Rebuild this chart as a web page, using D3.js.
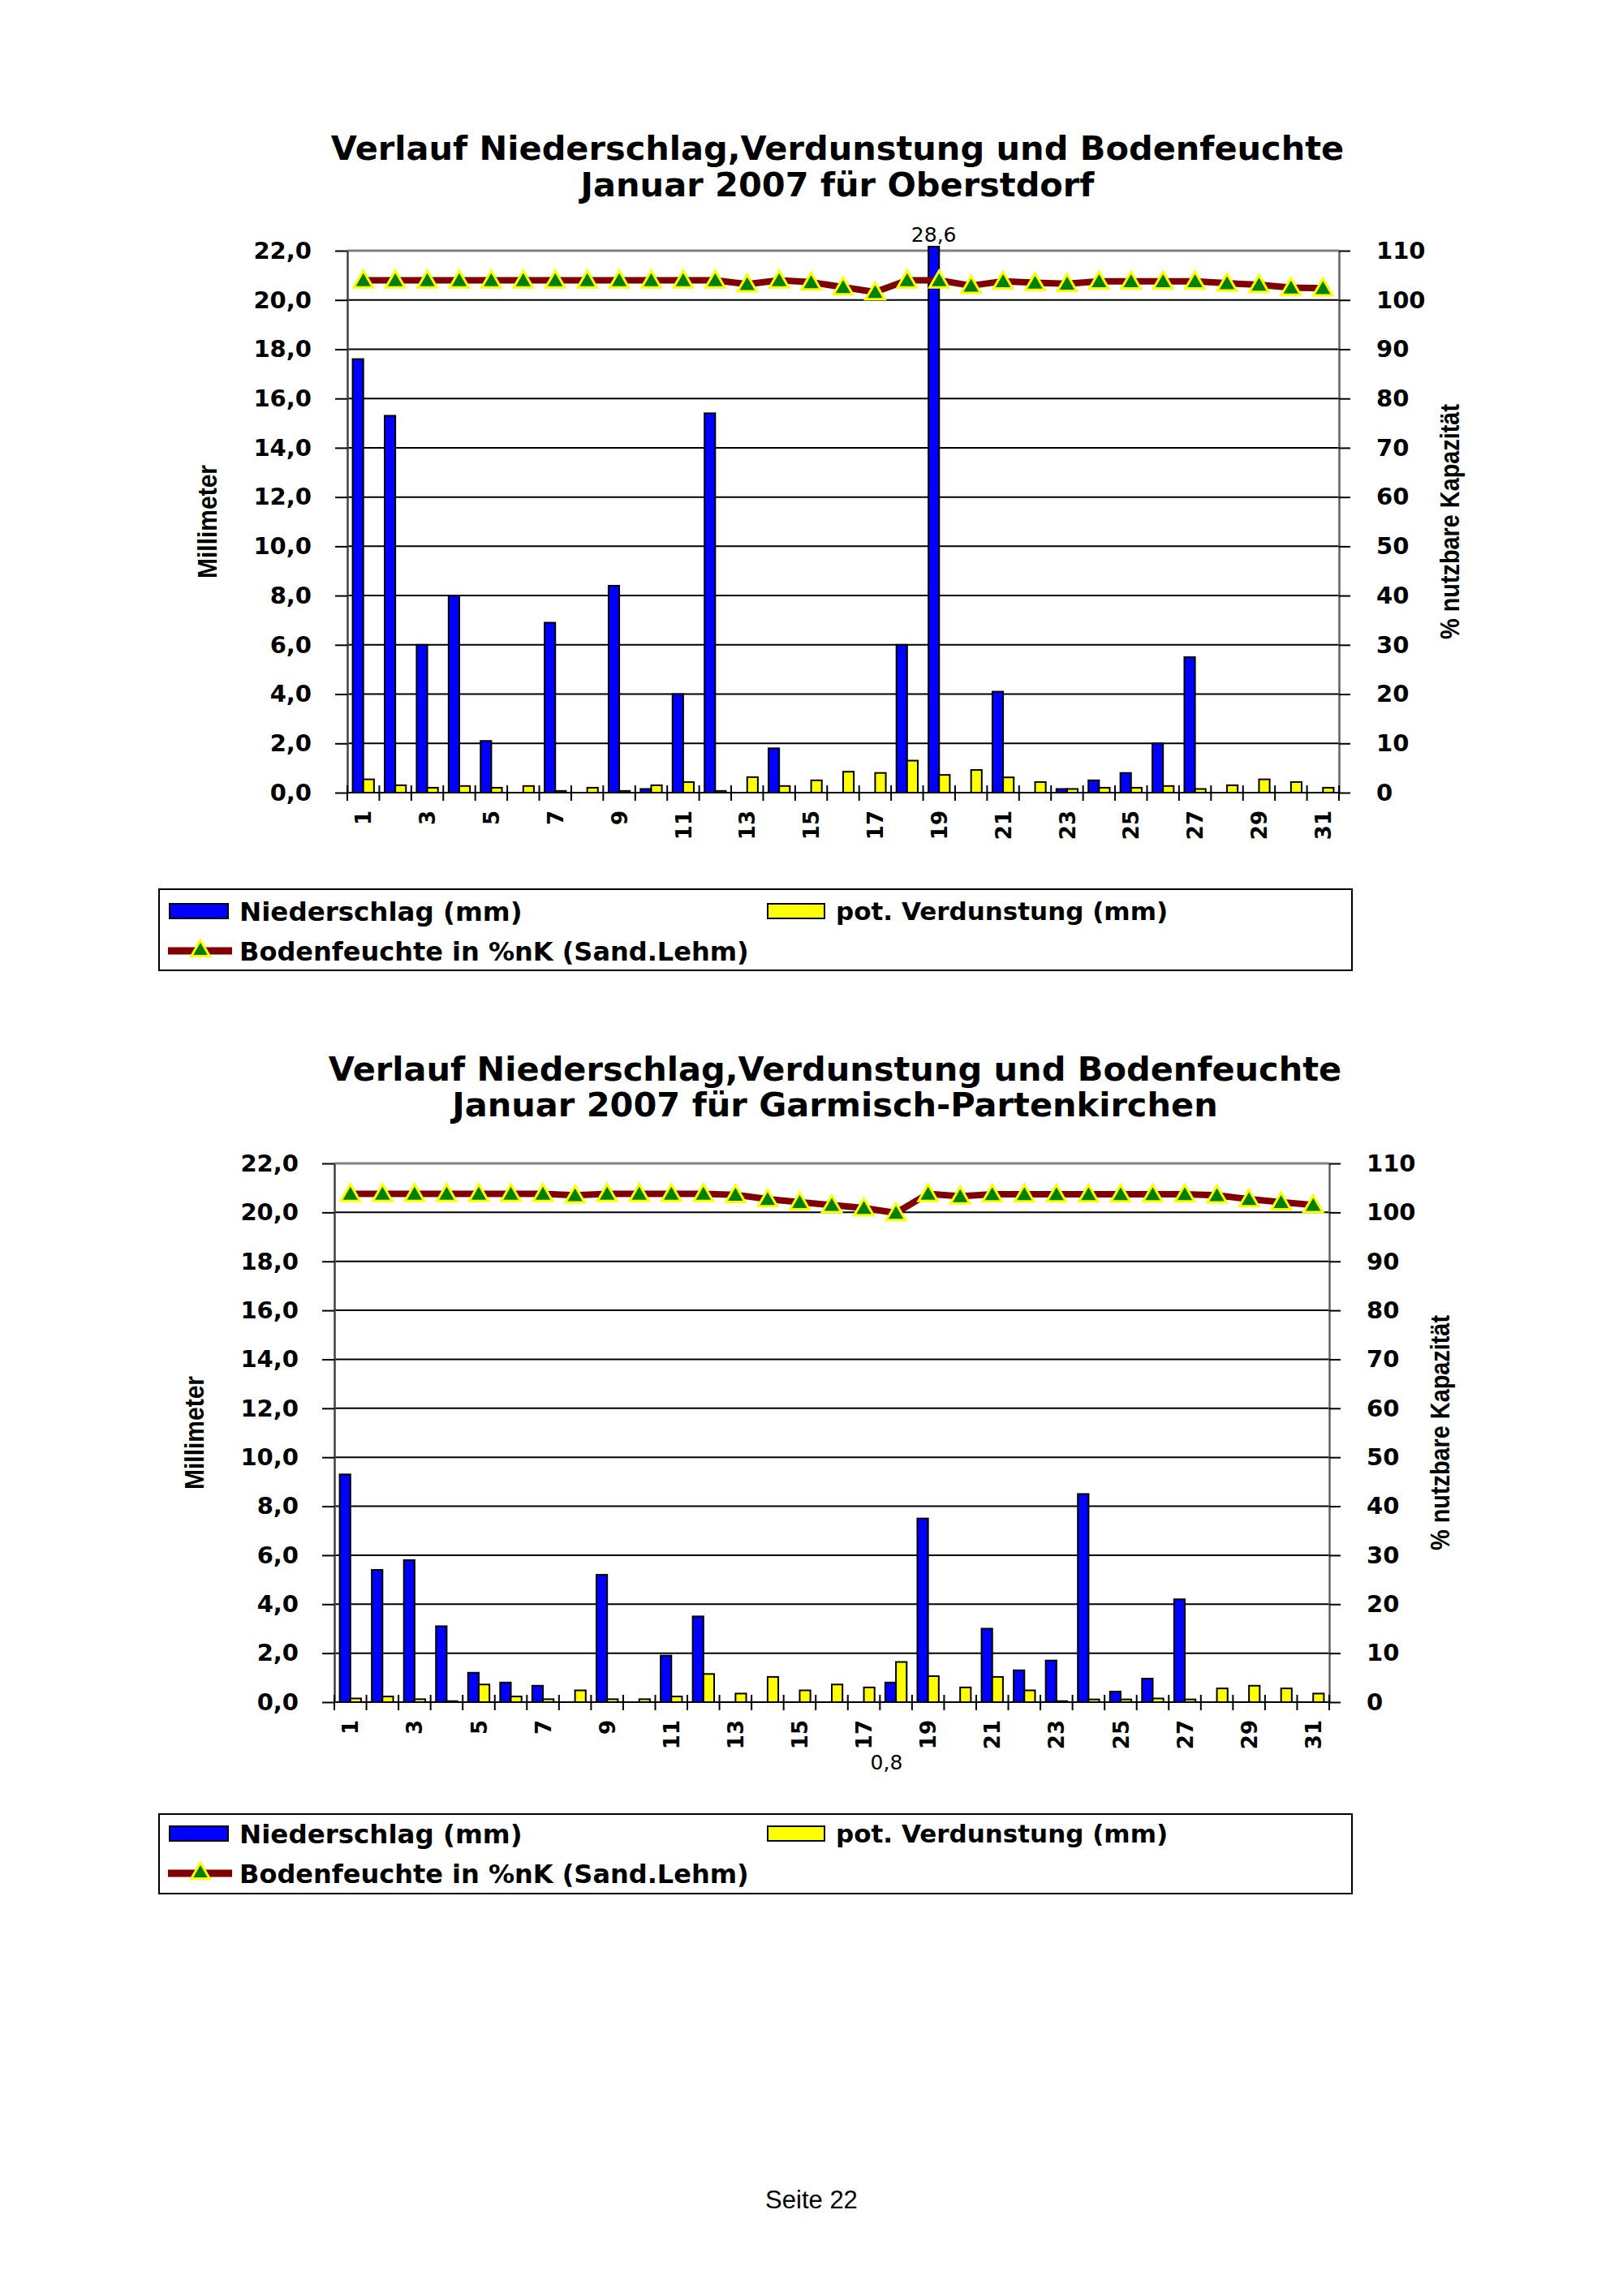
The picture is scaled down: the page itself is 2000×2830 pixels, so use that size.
<!DOCTYPE html>
<html>
<head>
<meta charset="utf-8">
<script src="https://cdn.jsdelivr.net/npm/d3@7"></script>
<style>
  body { margin: 0; background: #fff; }
  svg text { font-family: "DejaVu Sans", Verdana, sans-serif; }
</style>
</head>
<body>
<script>
// categories and ticks
const days = [1, 2, 3, 4, 5, 6, 7, 8, 9, 10, 11, 12, 13, 14, 15, 16, 17, 18, 19, 20, 21, 22, 23, 24, 25, 26, 27, 28, 29, 30, 31]
const labelDays = [1, 3, 5, 7, 9, 11, 13, 15, 17, 19, 21, 23, 25, 27, 29, 31]
const mmTicks = [0, 2, 4, 6, 8, 10, 12, 14, 16, 18, 20, 22]
const pctTicks = [0, 10, 20, 30, 40, 50, 60, 70, 80, 90, 100, 110]

// Oberstdorf, Januar 2007
const oberNiederschlag = [17.6, 15.3, 6.0, 8.0, 2.1, 0, 6.9, 0, 8.4, 0.15, 4.0, 15.4, 0, 1.8, 0, 0, 0, 6.0, 28.6, 0, 4.1, 0, 0.15, 0.5, 0.8, 2.0, 5.5, 0, 0, 0, 0]
const oberVerdunstung = [0.54, 0.3, 0.2, 0.27, 0.2, 0.27, 0.07, 0.2, 0.07, 0.3, 0.43, 0.07, 0.63, 0.27, 0.5, 0.85, 0.8, 1.3, 0.72, 0.92, 0.62, 0.43, 0.15, 0.2, 0.2, 0.27, 0.15, 0.3, 0.54, 0.43, 0.2]
const oberBodenfeuchte = [104, 104, 104, 104, 104, 104, 104, 104, 104, 104, 104, 104, 103.2, 104, 103.6, 102.6, 101.6, 104, 104, 102.9, 103.8, 103.5, 103.3, 103.8, 103.8, 103.8, 103.8, 103.4, 103.1, 102.5, 102.4]

// Garmisch-Partenkirchen, Januar 2007
const garmNiederschlag = [9.3, 5.4, 5.8, 3.1, 1.2, 0.8, 0.67, 0, 5.2, 0, 1.9, 3.5, 0, 0, 0, 0, 0, 0.8, 7.5, 0, 3.0, 1.3, 1.7, 8.5, 0.43, 0.96, 4.2, 0, 0, 0, 0]
const garmVerdunstung = [0.15, 0.23, 0.12, 0.04, 0.72, 0.23, 0.12, 0.48, 0.12, 0.12, 0.23, 1.15, 0.35, 1.03, 0.48, 0.72, 0.6, 1.64, 1.06, 0.6, 1.03, 0.48, 0.04, 0.11, 0.11, 0.15, 0.11, 0.56, 0.67, 0.56, 0.35]
const garmBodenfeuchte = [103.8, 103.8, 103.8, 103.8, 103.8, 103.8, 103.8, 103.5, 103.8, 103.8, 103.8, 103.8, 103.6, 102.7, 102.1, 101.5, 100.9, 99.9, 103.8, 103.3, 103.7, 103.7, 103.7, 103.7, 103.7, 103.7, 103.7, 103.5, 102.7, 102.1, 101.5]

const legendLabels = ['Niederschlag (mm)', 'pot. Verdunstung (mm)', 'Bodenfeuchte in %nK (Sand.Lehm)']

const blue = '#0000ff', yellow = '#ffff00', darkred = '#800000', green = '#008000'

const svg = d3.select('body').append('svg')
  .attr('width', 2000)
  .attr('height', 2830)

const fmtMM = (d) => d3.format('.1f')(d).replace('.', ',')

const drawChart = (c) => {
  const g = svg.append('g')

  // titles
  g.selectAll('text.title').data(c.title).join('text')
    .attr('class', 'title')
    .attr('x', c.titleX)
    .attr('y', (d, i) => c.titleY[i])
    .attr('text-anchor', 'middle')
    .style('font-size', '41.5px')
    .style('font-weight', 'bold')
    .text((d) => d)

  // scales
  const x = d3.scaleBand().domain(days).range([c.left, c.right])
  const inner = d3.scaleBand().domain(['n', 'v']).range([0, x.bandwidth()]).paddingOuter(0.5)
  const y = d3.scaleLinear().domain([0, 22]).range([c.bottom, c.top])
  const y2 = d3.scaleLinear().domain([0, 110]).range([c.bottom, c.top])

  // gridlines
  g.selectAll('line.grid').data(mmTicks).join('line')
    .attr('class', 'grid')
    .attr('x1', c.left).attr('x2', c.right)
    .attr('y1', (d) => y(d)).attr('y2', (d) => y(d))
    .attr('stroke', (d) => d === 22 ? '#808080' : '#000')
    .attr('stroke-width', (d) => d === 22 ? 3 : 2)

  // left axis
  const gl = g.append('g')
    .attr('transform', `translate(${c.left},0)`)
    .call(d3.axisLeft(y).tickValues(mmTicks).tickSize(15).tickSizeOuter(0).tickPadding(29).tickFormat(fmtMM))
  gl.select('.domain').attr('stroke', '#404040').attr('stroke-width', 2.5)
  gl.selectAll('.tick line').attr('stroke', '#000').attr('stroke-width', 2)
  gl.selectAll('.tick text')
    .style('font-size', '29px').style('font-weight', 'bold').attr('fill', '#000')

  // right axis
  const gr = g.append('g')
    .attr('transform', `translate(${c.right},0)`)
    .call(d3.axisRight(y2).tickValues(pctTicks).tickSize(14).tickSizeOuter(0).tickPadding(32))
  gr.select('.domain').attr('stroke', '#606060').attr('stroke-width', 2.5)
  gr.selectAll('.tick line').attr('stroke', '#000').attr('stroke-width', 2)
  gr.selectAll('.tick text')
    .style('font-size', '29px').style('font-weight', 'bold').attr('fill', '#000')

  // category boundary ticks on x axis
  const bounds = days.map((d) => x(d)).concat([c.right])
  g.selectAll('line.xtick').data(bounds).join('line')
    .attr('class', 'xtick')
    .attr('x1', (d) => d).attr('x2', (d) => d)
    .attr('y1', c.bottom - 9).attr('y2', c.bottom + 10)
    .attr('stroke', '#000').attr('stroke-width', 2)

  // x labels, rotated
  g.selectAll('text.xlab').data(labelDays).join('text')
    .attr('class', 'xlab')
    .attr('transform', (d) => `translate(${x(d) + x.bandwidth() / 2},${c.bottom + 22}) rotate(-90)`)
    .attr('dy', '0.37em')
    .attr('text-anchor', 'end')
    .style('font-size', '26px')
    .style('font-weight', 'bold')
    .text((d) => d)

  // axis titles
  g.append('text')
    .attr('transform', `translate(${c.left - 173},${(c.top + c.bottom) / 2}) rotate(-90)`)
    .attr('text-anchor', 'middle')
    .attr('dy', '0.36em')
    .attr('textLength', 140).attr('lengthAdjust', 'spacingAndGlyphs')
    .style('font-family', '"Liberation Sans", Arial, sans-serif')
    .style('font-size', '33px').style('font-weight', 'bold')
    .text('Millimeter')
  g.append('text')
    .attr('transform', `translate(${c.right + 136},${(c.top + c.bottom) / 2}) rotate(-90)`)
    .attr('text-anchor', 'middle')
    .attr('dy', '0.36em')
    .attr('textLength', 290).attr('lengthAdjust', 'spacingAndGlyphs')
    .style('font-family', '"Liberation Sans", Arial, sans-serif')
    .style('font-size', '33px').style('font-weight', 'bold')
    .text('% nutzbare Kapazität')

  // bars
  const barTop = (v) => v > 22 ? c.top - 5 : y(v)
  const drawBars = (vals, key, fill) => {
    g.selectAll('rect.' + key).data(vals).join('rect')
      .attr('class', key)
      .attr('x', (d, i) => x(days[i]) + inner(key))
      .attr('width', inner.bandwidth())
      .attr('y', (d) => barTop(d))
      .attr('height', (d) => c.bottom - barTop(d))
      .attr('fill', fill)
      .attr('stroke', '#000')
      .attr('stroke-width', 2)
  }
  drawBars(c.nieder, 'n', blue)
  drawBars(c.verd, 'v', yellow)

  // data labels
  c.labels.forEach((l) => {
    const i = days.indexOf(l.day)
    g.append('text')
      .attr('x', x(l.day) + inner('n') + inner.bandwidth() / 2 + l.dx)
      .attr('y', l.above ? c.top - 11 : c.bottom + l.dy)
      .attr('text-anchor', 'middle')
      .style('font-size', '25px')
      .text(fmtMM(c.nieder[i]))
  })

  // soil moisture line
  const cx = (d, i) => x(days[i]) + x.bandwidth() / 2
  g.append('path')
    .datum(c.boden)
    .attr('d', d3.line().x(cx).y((d) => y2(d)))
    .attr('fill', 'none')
    .attr('stroke', darkred)
    .attr('stroke-width', 8)
    .attr('stroke-linejoin', 'round')

  g.selectAll('path.mark').data(c.boden).join('path')
    .attr('class', 'mark')
    .attr('transform', (d, i) => `translate(${cx(d, i)},${y2(d) + 2})`)
    .attr('d', d3.symbol(d3.symbolTriangle, 240))
    .attr('fill', green)
    .attr('stroke', yellow)
    .attr('stroke-width', 3)

  // legend
  const lg = g.append('g')
  lg.append('rect')
    .attr('x', 196).attr('y', c.legTop)
    .attr('width', 1470).attr('height', c.legBottom - c.legTop)
    .attr('fill', '#fff').attr('stroke', '#000').attr('stroke-width', 2)
  const r1 = c.legRows[0], r2 = c.legRows[1]
  lg.append('rect').attr('x', 209).attr('y', r1 - 9).attr('width', 72).attr('height', 18)
    .attr('fill', blue).attr('stroke', '#000').attr('stroke-width', 2)
  lg.append('rect').attr('x', 946).attr('y', r1 - 9).attr('width', 70).attr('height', 18)
    .attr('fill', yellow).attr('stroke', '#000').attr('stroke-width', 2)
  lg.append('line').attr('x1', 207).attr('x2', 286).attr('y1', r2).attr('y2', r2)
    .attr('stroke', darkred).attr('stroke-width', 9)
  lg.append('path')
    .attr('transform', `translate(247,${r2})`)
    .attr('d', d3.symbol(d3.symbolTriangle, 220))
    .attr('fill', green).attr('stroke', yellow).attr('stroke-width', 3)
  const legPos = [[295, r1], [1030, r1], [295, r2]]
  const legSize = ['32.5px', '31px', '32px']
  lg.selectAll('text').data(legendLabels).join('text')
    .attr('x', (d, i) => legPos[i][0])
    .attr('y', (d, i) => legPos[i][1])
    .attr('dy', '0.36em')
    .style('font-size', (d, i) => legSize[i])
    .style('font-weight', 'bold')
    .text((d) => d)
}

drawChart({
  title: ['Verlauf Niederschlag,Verdunstung und Bodenfeuchte', 'Januar 2007 für Oberstdorf'],
  titleX: 1032, titleY: [197, 242],
  left: 428, right: 1650, top: 309, bottom: 977,
  nieder: oberNiederschlag, verd: oberVerdunstung, boden: oberBodenfeuchte,
  labels: [{day: 19, above: true, dx: 0}],
  legTop: 1096, legBottom: 1196, legRows: [1123, 1172]
})

drawChart({
  title: ['Verlauf Niederschlag,Verdunstung und Bodenfeuchte', 'Januar 2007 für Garmisch-Partenkirchen'],
  titleX: 1029, titleY: [1332, 1376],
  left: 412, right: 1638, top: 1434, bottom: 2098,
  nieder: garmNiederschlag, verd: garmVerdunstung, boden: garmBodenfeuchte,
  labels: [{day: 18, above: false, dx: -5, dy: 83}],
  legTop: 2236, legBottom: 2334, legRows: [2260, 2309]
})

// page footer
svg.append('text')
  .attr('x', 1000).attr('y', 2722)
  .attr('text-anchor', 'middle')
  .style('font-family', '"Liberation Sans", Arial, sans-serif')
  .style('font-size', '31px')
  .text('Seite 22')
</script>
</body>
</html>
